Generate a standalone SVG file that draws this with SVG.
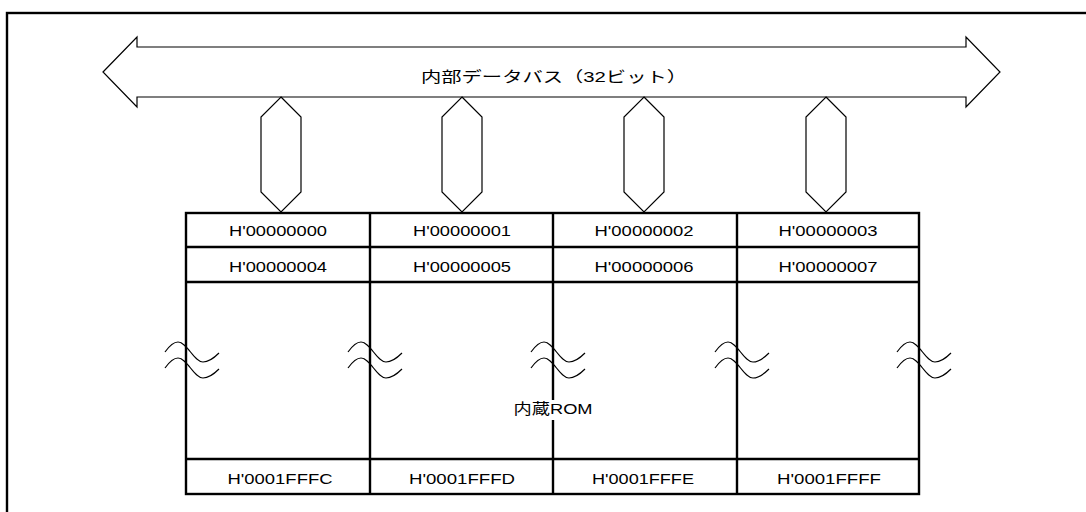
<svg xmlns="http://www.w3.org/2000/svg" width="1086" height="512" viewBox="0 0 1086 512">
<style>
.thin{fill:#fff;stroke:#000;stroke-width:1.2;stroke-linejoin:miter}
.cell{fill:none;stroke:#000;stroke-width:2.4}
.wave{fill:none;stroke:#000;stroke-width:1.2}
.t{font-family:"Liberation Sans","Noto Sans CJK JP",Arial,sans-serif;font-size:15px;fill:#000;text-anchor:middle}
</style>
<defs>
<path id="wv" d="M165,352 C170,345 174,342 178,342 C187,342 194,362 203,362 C209,362 214,358 219,353 M165,368 C170,361 174,358 178,358 C187,358 194,378 203,378 C209,378 214,374 219,369"/>
<polygon id="hex" points="0,97 20,117 20,192 0,212 -20,192 -20,117"/>
</defs>
<rect width="1086" height="512" fill="#fff"/>
<rect x="7" y="13" width="1100" height="520" fill="none" stroke="#000" stroke-width="2.4"/>

<g id="bus">
<polygon class="thin" points="103,72 137,37 137,47 966,47 966,37 1000,72 966,107 966,97 137,97 137,107"/>
<text class="t" x="554" y="82" textLength="266" lengthAdjust="spacingAndGlyphs">内部データバス（32ビット）</text>
</g>

<g id="connectors">
<use href="#hex" class="thin" transform="translate(281,0)"/>
<use href="#hex" class="thin" transform="translate(462,0)"/>
<use href="#hex" class="thin" transform="translate(644,0)"/>
<use href="#hex" class="thin" transform="translate(826,0)"/>
</g>

<g id="rom">
<rect class="cell" x="186" y="213" width="733" height="281"/>
<line class="cell" x1="370" y1="213" x2="370" y2="494"/>
<line class="cell" x1="553" y1="213" x2="553" y2="400"/>
<line class="cell" x1="553" y1="420" x2="553" y2="494"/>
<line class="cell" x1="737" y1="213" x2="737" y2="494"/>
<line class="cell" x1="186" y1="247" x2="919" y2="247"/>
<line class="cell" x1="186" y1="282" x2="919" y2="282"/>
<line class="cell" x1="186" y1="459" x2="919" y2="459"/>
<text class="t" x="553" y="414" textLength="79" lengthAdjust="spacingAndGlyphs">内蔵ROM</text>
</g>

<g id="waves">
<use href="#wv" class="wave"/>
<use href="#wv" class="wave" transform="translate(183,0)"/>
<use href="#wv" class="wave" transform="translate(366,0)"/>
<use href="#wv" class="wave" transform="translate(550,0)"/>
<use href="#wv" class="wave" transform="translate(732,0)"/>
</g>

<g id="addresses">
<text class="t" x="278" y="236" textLength="98" lengthAdjust="spacingAndGlyphs">H'00000000</text>
<text class="t" x="462" y="236" textLength="98" lengthAdjust="spacingAndGlyphs">H'00000001</text>
<text class="t" x="644" y="236" textLength="99" lengthAdjust="spacingAndGlyphs">H'00000002</text>
<text class="t" x="828" y="236" textLength="99" lengthAdjust="spacingAndGlyphs">H'00000003</text>
<text class="t" x="278" y="272" textLength="98" lengthAdjust="spacingAndGlyphs">H'00000004</text>
<text class="t" x="462" y="272" textLength="98" lengthAdjust="spacingAndGlyphs">H'00000005</text>
<text class="t" x="644" y="272" textLength="99" lengthAdjust="spacingAndGlyphs">H'00000006</text>
<text class="t" x="828" y="272" textLength="99" lengthAdjust="spacingAndGlyphs">H'00000007</text>
<text class="t" x="280" y="484" textLength="105" lengthAdjust="spacingAndGlyphs">H'0001FFFC</text>
<text class="t" x="462" y="484" textLength="106" lengthAdjust="spacingAndGlyphs">H'0001FFFD</text>
<text class="t" x="643" y="484" textLength="102" lengthAdjust="spacingAndGlyphs">H'0001FFFE</text>
<text class="t" x="829" y="484" textLength="104" lengthAdjust="spacingAndGlyphs">H'0001FFFF</text>
</g>
</svg>
